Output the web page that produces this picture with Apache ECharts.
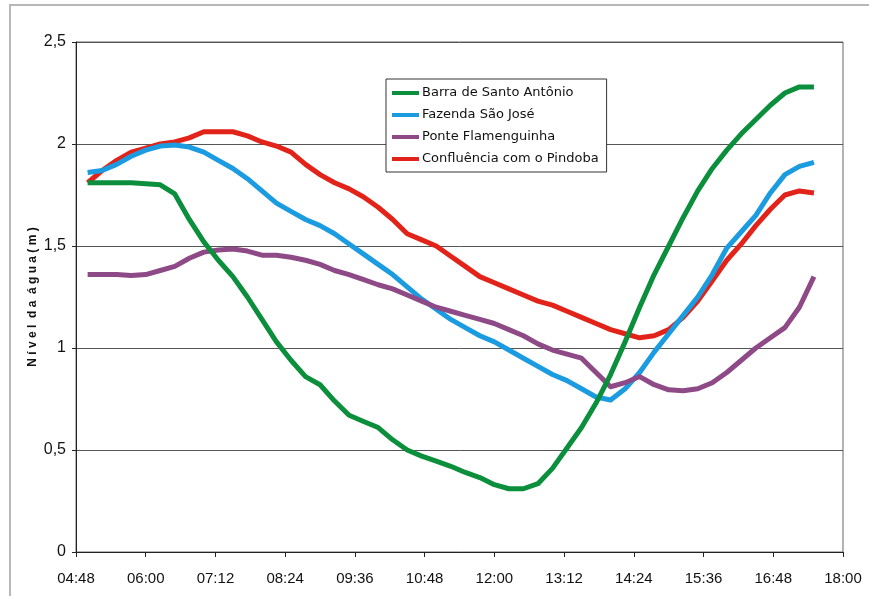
<!DOCTYPE html>
<html>
<head>
<meta charset="utf-8">
<title>Nível da água</title>
<script src="https://cdn.jsdelivr.net/npm/echarts@6/dist/echarts.min.js"></script>
<style>
  html, body { margin: 0; padding: 0; background: #fff; }
  #chart { width: 869px; height: 596px; }
</style>
</head>
<body>
<div id="chart"></div>
<script>
// horários (minutos desde 00:00), passo de 15 min de 05:00 a 17:30
const times = [300, 315, 330, 345, 360, 375, 390, 405, 420, 435,
  450, 465, 480, 495, 510, 525, 540, 555, 570, 585,
  600, 615, 630, 645, 660, 675, 690, 705, 720, 735,
  750, 765, 780, 795, 810, 825, 840, 855, 870, 885,
  900, 915, 930, 945, 960, 975, 990, 1005, 1020, 1035, 1050]

const barraSantoAntonio = [1.81, 1.81, 1.81, 1.81, 1.805, 1.80, 1.755, 1.63, 1.52, 1.43,
  1.35, 1.25, 1.14, 1.03, 0.94, 0.86, 0.82, 0.74, 0.67, 0.64,
  0.61, 0.55, 0.50, 0.47, 0.445, 0.42, 0.39, 0.365, 0.33, 0.31,
  0.31, 0.335, 0.41, 0.51, 0.61, 0.73, 0.87, 1.03, 1.20, 1.36,
  1.50, 1.64, 1.77, 1.88, 1.97, 2.05, 2.12, 2.19, 2.25, 2.28, 2.28]

const fazendaSaoJose = [1.86, 1.87, 1.90, 1.94, 1.97, 1.99, 1.995, 1.985, 1.96, 1.92,
  1.88, 1.83, 1.77, 1.71, 1.67, 1.63, 1.60, 1.56, 1.51, 1.46,
  1.41, 1.36, 1.30, 1.24, 1.19, 1.14, 1.10, 1.06, 1.03, 0.99,
  0.95, 0.91, 0.87, 0.84, 0.80, 0.76, 0.745, 0.80, 0.88, 0.98,
  1.07, 1.16, 1.25, 1.36, 1.49, 1.57, 1.65, 1.76, 1.85, 1.89, 1.91]

const ponteFlamenguinha = [1.36, 1.36, 1.36, 1.355, 1.36, 1.38, 1.40, 1.44, 1.47, 1.48,
  1.485, 1.475, 1.455, 1.455, 1.445, 1.43, 1.41, 1.38, 1.36, 1.335,
  1.31, 1.29, 1.26, 1.23, 1.20, 1.18, 1.16, 1.14, 1.12, 1.09,
  1.06, 1.02, 0.99, 0.97, 0.95, 0.88, 0.81, 0.83, 0.86, 0.82,
  0.795, 0.79, 0.80, 0.83, 0.88, 0.94, 1.00, 1.05, 1.10, 1.20, 1.35]

const confluenciaPindoba = [1.81, 1.87, 1.92, 1.96, 1.98, 2.00, 2.01, 2.03, 2.06, 2.06,
  2.06, 2.04, 2.01, 1.99, 1.96, 1.90, 1.85, 1.81, 1.78, 1.74,
  1.69, 1.63, 1.56, 1.53, 1.50, 1.45, 1.40, 1.35, 1.32, 1.29,
  1.26, 1.23, 1.21, 1.18, 1.15, 1.12, 1.09, 1.07, 1.05, 1.06,
  1.09, 1.15, 1.23, 1.33, 1.43, 1.51, 1.60, 1.68, 1.75, 1.77, 1.76]

const xTickLabels = ['04:48', '06:00', '07:12', '08:24', '09:36', '10:48',
  '12:00', '13:12', '14:24', '15:36', '16:48', '18:00']
const yTickLabels = ['0', '0,5', '1', '1,5', '2', '2,5']

// ordem de desenho: a última série fica por cima
const seriesDefs = [
  { name: 'Confluência com o Pindoba', data: confluenciaPindoba, color: '#e2231a' },
  { name: 'Fazenda São José', data: fazendaSaoJose, color: '#1b9be0' },
  { name: 'Ponte Flamenguinha', data: ponteFlamenguinha, color: '#8e4a86' },
  { name: 'Barra de Santo Antônio', data: barraSantoAntonio, color: '#0b8f3c' }
]

const sans = '"Liberation Sans", Arial, sans-serif'

const chart = echarts.init(document.getElementById('chart'), null, { renderer: 'canvas' })

chart.setOption({
  backgroundColor: '#fff',
  animation: false,
  graphic: [{
    type: 'rect',
    shape: { x: 10, y: 5, width: 900, height: 700 },
    style: { fill: 'none', stroke: '#b8b8b8', lineWidth: 2 },
    silent: true
  }],
  grid: {
    left: 76,
    right: 26,
    top: 42,
    bottom: 44,
    show: true,
    borderColor: '#666',
    borderWidth: 1
  },
  legend: {
    data: ['Barra de Santo Antônio', 'Fazenda São José', 'Ponte Flamenguinha', 'Confluência com o Pindoba'],
    orient: 'vertical',
    left: 386,
    top: 79,
    padding: [6, 8, 5, 6],
    itemGap: 6,
    itemWidth: 27,
    itemHeight: 4,
    icon: 'rect',
    backgroundColor: '#fff',
    borderColor: '#333',
    borderWidth: 1,
    borderRadius: 0,
    textStyle: {
      fontFamily: '"DejaVu Sans", sans-serif',
      fontSize: 13,
      lineHeight: 16,
      color: '#111',
      padding: [0, 0, 0, -2]
    }
  },
  xAxis: {
    type: 'value',
    min: 288,
    max: 1080,
    interval: 72,
    axisLine: { show: true, lineStyle: { color: '#222', width: 1 } },
    axisTick: { show: true, length: 5, lineStyle: { color: '#222' } },
    splitLine: { show: false },
    axisLabel: {
      margin: 19,
      color: '#111',
      fontFamily: sans,
      fontSize: 15,
      formatter: v => xTickLabels[Math.round((v - 288) / 72)]
    }
  },
  yAxis: {
    type: 'value',
    min: 0,
    max: 2.5,
    interval: 0.5,
    name: 'N í v e l  d a  á g u a ( m )',
    nameLocation: 'middle',
    nameGap: 37,
    nameMoveOverlap: false,
    nameTextStyle: {
      fontFamily: sans,
      fontSize: 12,
      fontWeight: 'bold',
      color: '#111'
    },
    axisLine: { show: true, lineStyle: { color: '#222', width: 1 } },
    axisTick: { show: true, length: 4, lineStyle: { color: '#222' } },
    splitLine: { show: true, lineStyle: { color: '#555', width: 1 } },
    axisLabel: {
      margin: 10,
      color: '#111',
      fontFamily: sans,
      fontSize: 16,
      formatter: v => yTickLabels[Math.round(v / 0.5)]
    }
  },
  series: seriesDefs.map(s => ({
    name: s.name,
    type: 'line',
    data: times.map((t, i) => [t, s.data[i]]),
    showSymbol: false,
    symbol: 'none',
    smooth: false,
    color: s.color,
    lineStyle: { width: 5, color: s.color, join: 'round', cap: 'butt' },
    emphasis: { disabled: true }
  }))
})
</script>
</body>
</html>
